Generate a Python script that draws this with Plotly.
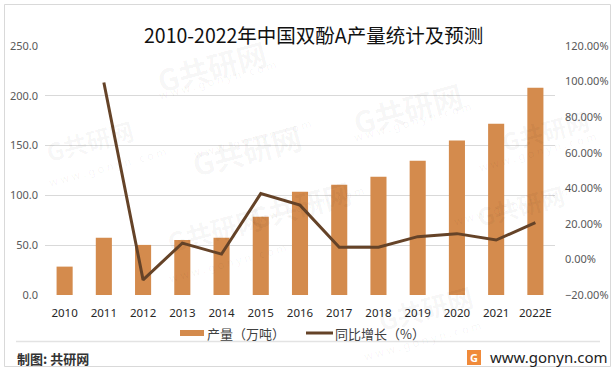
import plotly.graph_objects as go

years = ["2010", "2011", "2012", "2013", "2014", "2015", "2016",
         "2017", "2018", "2019", "2020", "2021", "2022E"]
output_wt = [28.5, 57.6, 50.3, 55.3, 57.6, 78.5, 103.6,
             110.7, 118.7, 134.8, 155.0, 172.0, 208.2]
growth_years = ["2011", "2012", "2013", "2014", "2015", "2016",
                "2017", "2018", "2019", "2020", "2021", "2022E"]
growth_pct = [0.995, -0.115, 0.092, 0.030, 0.370, 0.305,
              0.069, 0.069, 0.128, 0.145, 0.109, 0.207]

title_text = "2010-2022年中国双酚A产量统计及预测"
bar_name = "产量（万吨）"
line_name = "同比增长（%）"
source_text = "制图: 共研网"
site_text = "www.gonyn.com"

BAR_C = "#D48B4D"
LINE_C = "#654328"
CJK = "Noto Sans CJK SC"

fig = go.Figure()
fig.add_trace(go.Bar(x=years, y=output_wt, name=bar_name, marker_color=BAR_C,
                     marker_line_width=0, yaxis="y", showlegend=False, hoverinfo="skip"))
fig.add_trace(go.Scatter(x=growth_years, y=growth_pct, name=line_name, mode="lines",
                         line=dict(color=LINE_C, width=3), yaxis="y2", showlegend=False,
                         hoverinfo="skip"))

W, H = 616, 371
L, R, T, B = 45, 61, 46, 76
PW, PH = W - L - R, H - T - B


def px(x):
    return (x - L) / PW


def py(y):
    return (H - B - y) / PH


shapes = [
    # outer border
    dict(type="rect", xref="paper", yref="paper", x0=px(4.5), x1=px(610.5), y0=py(366.5), y1=py(4.5),
         line=dict(color="#D9D9D9", width=1), layer="below"),
    # separator
    dict(type="line", xref="paper", yref="paper", x0=px(16), x1=px(600), y0=py(341.5), y1=py(341.5),
         line=dict(color="#E3E3E3", width=1.5)),
    # legend swatches
    dict(type="rect", xref="paper", yref="paper", x0=px(180), x1=px(204), y0=py(336), y1=py(330),
         fillcolor=BAR_C, line=dict(width=0)),
    dict(type="line", xref="paper", yref="paper", x0=px(306), x1=px(333), y0=py(333), y1=py(333),
         line=dict(color=LINE_C, width=3)),
    # logo
    dict(type="rect", xref="paper", yref="paper", x0=px(467), x1=px(481), y0=py(365), y1=py(350),
         fillcolor="#F08A3A", line=dict(width=0)),
]

annotations = [
    dict(text=title_text, x=px(313), y=py(34), xref="paper", yref="paper", showarrow=False,
         font=dict(family=CJK, size=19.5, color="#111111"), xanchor="center", yanchor="middle"),
    dict(text=bar_name, x=px(205), y=py(333), xref="paper", yref="paper", showarrow=False,
         font=dict(family=CJK, size=13, color="#404040"), xanchor="left", yanchor="middle"),
    dict(text=line_name, x=px(333), y=py(333), xref="paper", yref="paper", showarrow=False,
         font=dict(family=CJK, size=13, color="#404040"), xanchor="left", yanchor="middle"),
    dict(text="<b>" + source_text + "</b>", x=px(15), y=py(358), xref="paper", yref="paper", showarrow=False,
         font=dict(family=CJK, size=13, color="#333333"), xanchor="left", yanchor="middle"),
    dict(text="<b>G</b>", x=px(474), y=py(357.5), xref="paper", yref="paper", showarrow=False,
         font=dict(family="Noto Sans", size=11, color="white"), xanchor="center", yanchor="middle"),
    dict(text=site_text, x=px(488), y=py(357), xref="paper", yref="paper", showarrow=False,
         font=dict(family="Noto Sans", size=15, color="#222222"), xanchor="left", yanchor="middle"),
]

# faint watermarks
for (wx, wy, s) in [(150, 28, 30), (185, 112, 30), (470, 70, 30), (300, 205, 28), (160, 262, 26),
                    (40, 140, 24), (595, 100, 24), (570, 205, 24), (480, 340, 26)]:
    annotations.append(dict(text="<b>G共研网</b>", x=px(wx), y=py(wy), xref="paper", yref="paper",
                            showarrow=False, textangle=-15,
                            font=dict(family=CJK, size=s, color="rgba(0,0,0,0.04)")))
    annotations.append(dict(text="w w w . g o n y n . c o m", x=px(wx + 5), y=py(wy + 26), xref="paper",
                            yref="paper", showarrow=False, textangle=-15,
                            font=dict(family="Noto Sans", size=11, color="rgba(0,0,0,0.045)")))

fig.update_layout(
    width=W, height=H,
    margin=dict(l=L, r=R, t=T, b=B, autoexpand=False),
    paper_bgcolor="white", plot_bgcolor="white",
    bargap=0.59,
    showlegend=False,
    hovermode=False,
    xaxis=dict(type="category", showgrid=False, showline=False, zeroline=False, ticks="",
               ticklabelstandoff=9,
               tickfont=dict(family="Noto Sans", size=11.5, color="#262626")),
    yaxis=dict(range=[0, 250], dtick=50, tickformat=".1f", showgrid=True, gridcolor="#D9D9D9",
               gridwidth=1, zeroline=False, showline=False, ticks="", ticklabelstandoff=6,
               tickfont=dict(family="Noto Sans", size=11, color="#595959")),
    yaxis2=dict(range=[-0.2, 1.2], dtick=0.2, tickformat=".2%", overlaying="y", side="right",
                showgrid=False, zeroline=False, showline=False, ticks="", ticklabelstandoff=9,
                tickfont=dict(family="Noto Sans", size=11, color="#595959")),
    shapes=shapes,
    annotations=annotations,
)

fig.write_html("out.html", config={"displayModeBar": False, "staticPlot": True},
               post_script="document.body.style.margin='0';document.body.style.overflow='hidden';")
